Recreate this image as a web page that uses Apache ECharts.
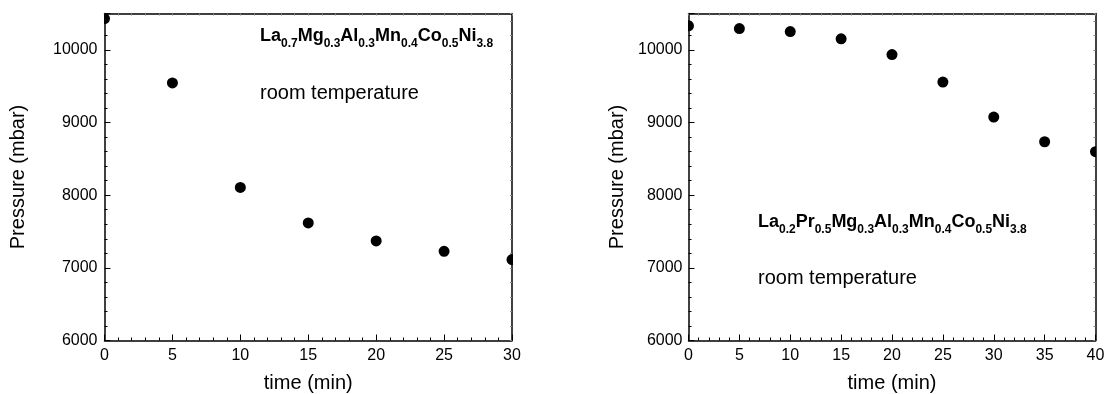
<!DOCTYPE html>
<html>
<head>
<meta charset="utf-8">
<script src="https://cdn.jsdelivr.net/npm/echarts@6/dist/echarts.min.js"></script>
<style>html,body{margin:0;padding:0;background:#fff}#c{width:1117px;height:394px}</style>
</head>
<body>
<div id="c"></div>
<script>
// ---- data ----
var timeLeft = [0, 5, 10, 15, 20, 25, 30];
var pressureLeft = [10430, 9545, 8107, 7618, 7370, 7227, 7113];
var timeRight = [0, 5, 10, 15, 20, 25, 30, 35, 40];
var pressureRight = [10330, 10293, 10252, 10151, 9935, 9556, 9075, 8735, 8598];
var xName = 'time (min)';
var yName = 'Pressure (mbar)';
var roomText = 'room temperature';
var formulaLeft = [['La', '0.7'], ['Mg', '0.3'], ['Al', '0.3'], ['Mn', '0.4'], ['Co', '0.5'], ['Ni', '3.8']];
var formulaRight = [['La', '0.2'], ['Pr', '0.5'], ['Mg', '0.3'], ['Al', '0.3'], ['Mn', '0.4'], ['Co', '0.5'], ['Ni', '3.8']];

var FONT = '"Liberation Sans", Arial, sans-serif';

function pairs(xs, ys) { return xs.map(function (x, i) { return [x, ys[i]]; }); }
function formulaRich(parts) { return parts.map(function (p) { return '{b|' + p[0] + '}{s|' + p[1] + '}'; }).join(''); }
function plain(v) { return String(v); }

function mainX(idx, max) {
  return {
    gridIndex: idx, type: 'value', min: 0, max: max, interval: 5, position: 'bottom',
    name: xName, nameLocation: 'middle', nameGap: 33,
    nameTextStyle: { fontFamily: FONT, fontSize: 20, color: '#000' },
    axisLine: { show: true, onZero: false, lineStyle: { color: '#000', width: 1.5 } },
    axisTick: { show: true, inside: true, length: 6, lineStyle: { color: '#000', width: 1 } },
    minorTick: { show: true, splitNumber: 5, length: 3, lineStyle: { color: '#000', width: 1 } },
    axisLabel: { fontFamily: FONT, fontSize: 16, color: '#000', margin: 7, formatter: plain },
    splitLine: { show: false }
  };
}
function frameX(idx, max) {
  return {
    gridIndex: idx, type: 'value', min: 0, max: max, interval: 5, position: 'top',
    axisLine: { show: true, onZero: false, lineStyle: { color: '#000', width: 1.5 } },
    axisTick: { show: true, inside: true, length: 2, lineStyle: { color: '#888', width: 1 } },
    minorTick: { show: true, splitNumber: 5, length: 2, lineStyle: { color: '#888', width: 1 } },
    axisLabel: { show: false }, splitLine: { show: false }
  };
}
function mainY(idx, gap, margin) {
  return {
    gridIndex: idx, type: 'value', min: 6000, max: 10500, interval: 1000, position: 'left',
    name: yName, nameLocation: 'middle', nameGap: gap, nameRotate: 90,
    nameTextStyle: { fontFamily: FONT, fontSize: 20, color: '#000' },
    axisLine: { show: true, onZero: false, lineStyle: { color: '#000', width: 1.5 } },
    axisTick: { show: true, inside: true, length: 6, lineStyle: { color: '#000', width: 1 } },
    minorTick: { show: true, splitNumber: 5, length: 3, lineStyle: { color: '#000', width: 1 } },
    axisLabel: { fontFamily: FONT, fontSize: 16, color: '#000', margin: margin, showMaxLabel: false, formatter: plain },
    splitLine: { show: false }
  };
}
function frameY(idx) {
  return {
    gridIndex: idx, type: 'value', min: 6000, max: 10500, interval: 1000, position: 'right',
    axisLine: { show: true, onZero: false, lineStyle: { color: '#000', width: 1.5 } },
    axisTick: { show: true, inside: true, length: 2, lineStyle: { color: '#888', width: 1 } },
    minorTick: { show: true, splitNumber: 5, length: 2, lineStyle: { color: '#888', width: 1 } },
    axisLabel: { show: false }, splitLine: { show: false }
  };
}
function dots(xi, yi, data) {
  return {
    type: 'custom', xAxisIndex: xi, yAxisIndex: yi, clip: true, data: data,
    encode: { x: 0, y: 1 },
    renderItem: function (params, api) {
      var p = api.coord([api.value(0), api.value(1)]);
      return { type: 'circle', shape: { cx: p[0], cy: p[1], r: 5.5 }, style: { fill: '#000' } };
    }
  };
}
var rich = {
  b: { fontFamily: FONT, fontSize: 18, fontWeight: 'bold', color: '#000', lineHeight: 22 },
  s: { fontFamily: FONT, fontSize: 12, fontWeight: 'bold', color: '#000', lineHeight: 12, padding: [16, 0, 0, 0] }
};

var chart = echarts.init(document.getElementById('c'), null, { renderer: 'canvas' });
chart.setOption({
  animation: false,
  backgroundColor: '#fff',
  grid: [
    { left: 104.5, top: 13.5, width: 407.5, height: 327, outerBoundsMode: 'none', containLabel: false },
    { left: 688.5, top: 13.5, width: 407, height: 327, outerBoundsMode: 'none', containLabel: false }
  ],
  xAxis: [mainX(0, 30), frameX(0, 30), mainX(1, 40), frameX(1, 40)],
  yAxis: [mainY(0, 76, 7), frameY(0), mainY(1, 61, 6), frameY(1)],
  series: [
    dots(0, 0, pairs(timeLeft, pressureLeft)),
    dots(2, 2, pairs(timeRight, pressureRight))
  ],
  graphic: [
    { type: 'text', x: 260, y: 25, style: { text: formulaRich(formulaLeft), rich: rich, verticalAlign: 'top' } },
    { type: 'text', x: 260, y: 93, style: { text: roomText, fontFamily: FONT, fontSize: 20, fill: '#000', verticalAlign: 'middle' } },
    { type: 'text', x: 758, y: 211, style: { text: formulaRich(formulaRight), rich: rich, verticalAlign: 'top' } },
    { type: 'text', x: 758, y: 278, style: { text: roomText, fontFamily: FONT, fontSize: 20, fill: '#000', verticalAlign: 'middle' } }
  ]
});
</script>
</body>
</html>
